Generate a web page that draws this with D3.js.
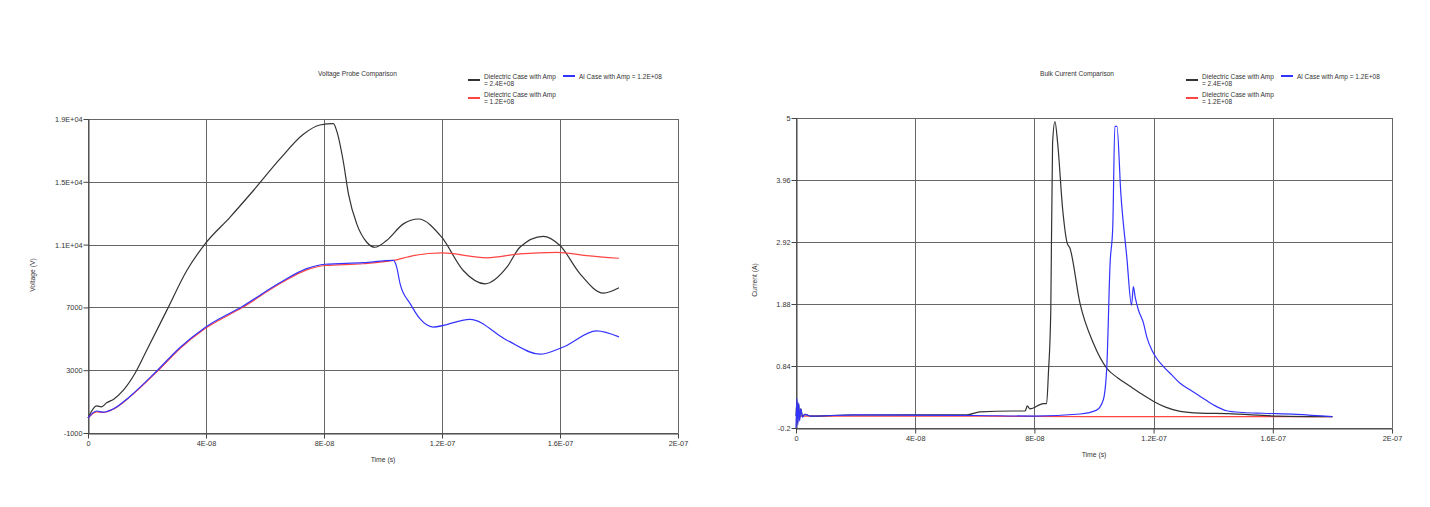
<!DOCTYPE html>
<html>
<head>
<meta charset="utf-8">
<script src="https://cdn.jsdelivr.net/npm/d3@7"></script>
<style>
  html, body { margin: 0; padding: 0; background: #fff; }
  svg { display: block; }
  text { font-family: "Liberation Sans", Arial, sans-serif; fill: #333; }
</style>
</head>
<body>
<svg id="chart" width="1430" height="507"></svg>
<script>
// ---------- shared axis data ----------
const timeTicks = [0, 40, 80, 120, 160, 200];            // ns
const timeTickLabels = ["0", "4E-08", "8E-08", "1.2E-07", "1.6E-07", "2E-07"];

// ---------- Voltage chart ----------
const voltTicks = [-1000, 3000, 7000, 11000, 15000, 19000];
const voltTickLabels = ["-1000", "3000", "7000", "1.1E+04", "1.5E+04", "1.9E+04"];

const voltT_D24 = [0, 2.9, 4.6, 6.3, 8.6, 12, 15.9, 19.9, 26.7, 33.5, 39.7, 48.1, 56, 65, 73, 78.6, 83.2, 84.3, 86.5, 88.3, 91.1, 94.5, 97.3, 101.2, 106.9, 112, 119.9, 127.2, 134.6, 142, 146.4, 154.3, 160, 166.8, 174.7, 180];
const voltV_D24 = [-50, 730, 670, 920, 1140, 1730, 2790, 4270, 6810, 9350, 11050, 12740, 14430, 16440, 18030, 18620, 18700, 18240, 16340, 14220, 12320, 11150, 10830, 11260, 12320, 12630, 11470, 9350, 8500, 9560, 10830, 11530, 10940, 9140, 7910, 8250];

const voltT_D12 = [0, 2.9, 5.2, 8.6, 14.2, 23.3, 31.2, 39.7, 52.6, 65, 74.1, 80.3, 93.3, 103.5, 110.3, 119.9, 135.2, 146.4, 158.9, 169, 180];
const voltV_D12 = [-50, 350, 310, 520, 1300, 2890, 4380, 5650, 7020, 8500, 9390, 9670, 9780, 9990, 10300, 10470, 10160, 10410, 10510, 10300, 10130];

const voltT_Al12 = [0, 2.9, 5.2, 8.6, 14.2, 23.3, 31.2, 39.7, 52.6, 65, 74.1, 80.3, 93.3, 103.5, 104.6, 105.8, 109.2, 112.5, 117, 129.5, 142, 153.2, 161.1, 172.4, 180];
const voltV_Al12 = [-50, 400, 330, 540, 1330, 2950, 4450, 5720, 7090, 8570, 9470, 9750, 9850, 10000, 9600, 8500, 7240, 6280, 5750, 6240, 4910, 4020, 4480, 5500, 5120];

// ---------- Current chart ----------
const currTicks = [-0.2, 0.84, 1.88, 2.92, 3.96, 5];
const currTickLabels = ["-0.2", "0.84", "1.88", "2.92", "3.96", "5"];

const currT_D24 = [0, 0.3, 0.6, 0.9, 1.2, 1.6, 2.2, 3, 5, 17, 57.3, 61.7, 72.9, 76.9, 77.6, 78.5, 83, 84.1, 84.7, 85.5, 86.1, 86.9, 87.8, 89.5, 91, 91.9, 95.3, 99.8, 104.3, 108, 112.1, 116, 119.9, 124, 128.9, 135.6, 145, 162, 180];
const currI_D24 = [0, 0.25, -0.12, 0.2, -0.05, 0.12, 0.0, 0.03, 0.0, 0.018, 0.02, 0.07, 0.085, 0.085, 0.17, 0.12, 0.21, 0.21, 0.72, 1.78, 4.58, 4.94, 4.58, 3.46, 2.90, 2.82, 1.89, 1.22, 0.80, 0.64, 0.50, 0.37, 0.25, 0.15, 0.08, 0.05, 0.04, 0.0, -0.01];

const currT_D12 = [0, 5, 40, 80, 120, 160, 180];
const currI_D12 = [0, 0.0, 0.0, -0.005, -0.01, -0.01, -0.01];

const currT_Al12 = [0, 0.3, 0.6, 0.9, 1.2, 1.6, 2.2, 3, 5, 20, 60, 80, 95.3, 100.9, 103.1, 104.3, 105.4, 106.3, 107, 107.7, 109, 111, 112.6, 113.2, 113.8, 114.9, 116.6, 117.7, 119.4, 121, 123.3, 126.1, 128.9, 132.2, 135.6, 140, 144.5, 150, 156.7, 168, 180];
const currI_Al12 = [-0.2, 0.3, -0.15, 0.22, -0.08, 0.12, -0.02, 0.03, 0.0, 0.02, 0.01, 0.0, 0.035, 0.10, 0.27, 0.83, 2.56, 3.18, 4.86, 4.86, 3.74, 2.67, 1.86, 2.17, 2.0, 1.78, 1.56, 1.33, 1.11, 0.97, 0.83, 0.69, 0.55, 0.44, 0.33, 0.19, 0.09, 0.06, 0.047, 0.03, -0.01];

const legendLabels = [["Dielectric Case with Amp", "= 2.4E+08"], ["Al Case with Amp = 1.2E+08"], ["Dielectric Case with Amp", "= 1.2E+08"]];
const seriesColors = ["#333333", "#3333ff", "#ff4444"];

const svg = d3.select("#chart");

function zip(t, v) { return t.map((d, i) => [d, v[i]]); }

function drawChart(cfg) {
  const g = svg.append("g");
  const x = d3.scaleLinear().domain([0, 200]).range([cfg.left, cfg.right]);
  const y = d3.scaleLinear().domain(cfg.yDomain).range([cfg.bottom, cfg.top]);

  // grid
  g.append("g").selectAll("line.h").data(cfg.yTicks).join("line")
    .attr("x1", cfg.left).attr("x2", cfg.right)
    .attr("y1", d => Math.round(y(d)) + 0.5).attr("y2", d => Math.round(y(d)) + 0.5)
    .attr("stroke", "#666").attr("stroke-width", 1);
  g.append("g").selectAll("line.v").data(timeTicks).join("line")
    .attr("y1", cfg.top).attr("y2", cfg.bottom)
    .attr("x1", d => Math.round(x(d)) + 0.5).attr("x2", d => Math.round(x(d)) + 0.5)
    .attr("stroke", "#666").attr("stroke-width", 1);

  // axes
  const yAxis = d3.axisLeft(y).tickValues(cfg.yTicks)
    .tickFormat((d, i) => cfg.yLabels[i]).tickSize(5).tickSizeOuter(0);
  const xAxis = d3.axisBottom(x).tickValues(timeTicks)
    .tickFormat((d, i) => timeTickLabels[i]).tickSize(5).tickSizeOuter(0);
  const ya = g.append("g").attr("transform", `translate(${Math.round(cfg.left) + 0.5},0)`).call(yAxis);
  const xa = g.append("g").attr("transform", `translate(0,${Math.round(cfg.bottom) + 0.5})`).call(xAxis);
  [ya, xa].forEach(a => {
    a.selectAll("path").attr("stroke", "#444");
    a.selectAll("line").attr("stroke", "#444");
    a.selectAll("text").style("font-family", '"Liberation Sans", Arial, sans-serif')
      .style("font-size", "7.3px").attr("fill", "#333");
  });
  ya.selectAll("text").attr("x", -6).attr("dy", "0.33em");
  xa.selectAll("text").attr("y", 7);

  // series
  const line = d3.line().x(d => x(d[0])).y(d => y(d[1])).curve(d3.curveMonotoneX);
  cfg.series.forEach(s => {
    g.append("path").datum(zip(s.t, s.v))
      .attr("fill", "none").attr("stroke", s.color)
      .attr("stroke-width", 1.2).attr("stroke-linejoin", "round")
      .attr("d", line);
  });

  // title
  g.append("text").attr("x", cfg.titleX).attr("y", 76)
    .style("font-size", "6.6px").text(cfg.title);

  // axis labels
  g.append("text").attr("x", (cfg.left + cfg.right) / 2).attr("y", cfg.xLabelY)
    .attr("text-anchor", "middle").style("font-size", "6.8px").text("Time (s)");
  g.append("text").attr("transform", `translate(${cfg.yLabelX},${cfg.yLabelY}) rotate(-90)`)
    .attr("text-anchor", "middle").style("font-size", "6.8px").text(cfg.yTitle);

  // legend
  const lx = cfg.legendX;
  const items = [
    { sx: lx, sy: 80, tx: lx + 16, ty: 79, lines: legendLabels[0], color: seriesColors[0] },
    { sx: lx + 95, sy: 76, tx: lx + 111, ty: 79, lines: legendLabels[1], color: seriesColors[1] },
    { sx: lx, sy: 98, tx: lx + 16, ty: 97, lines: legendLabels[2], color: seriesColors[2] }
  ];
  items.forEach(it => {
    g.append("line").attr("x1", it.sx).attr("x2", it.sx + 12)
      .attr("y1", it.sy).attr("y2", it.sy)
      .attr("stroke", it.color).attr("stroke-width", 2);
    it.lines.forEach((t, i) => {
      g.append("text").attr("x", it.tx).attr("y", it.ty + i * 7)
        .style("font-size", "6.5px").text(t);
    });
  });
}

drawChart({
  left: 88, right: 678, top: 119, bottom: 433,
  yDomain: [-1000, 19000], yTicks: voltTicks, yLabels: voltTickLabels,
  title: "Voltage Probe Comparison", titleX: 318,
  yTitle: "Voltage (V)", yLabelX: 35, yLabelY: 275, xLabelY: 462,
  legendX: 468,
  series: [
    { t: voltT_D24, v: voltV_D24, color: seriesColors[0] },
    { t: voltT_D12, v: voltV_D12, color: seriesColors[2] },
    { t: voltT_Al12, v: voltV_Al12, color: seriesColors[1] }
  ]
});

drawChart({
  left: 796, right: 1392, top: 118, bottom: 428,
  yDomain: [-0.2, 5], yTicks: currTicks, yLabels: currTickLabels,
  title: "Bulk Current Comparison", titleX: 1040,
  yTitle: "Current (A)", yLabelX: 757, yLabelY: 280, xLabelY: 457,
  legendX: 1186,
  series: [
    { t: currT_D12, v: currI_D12, color: seriesColors[2] },
    { t: currT_D24, v: currI_D24, color: seriesColors[0] },
    { t: currT_Al12, v: currI_Al12, color: seriesColors[1] }
  ]
});
</script>
</body>
</html>
